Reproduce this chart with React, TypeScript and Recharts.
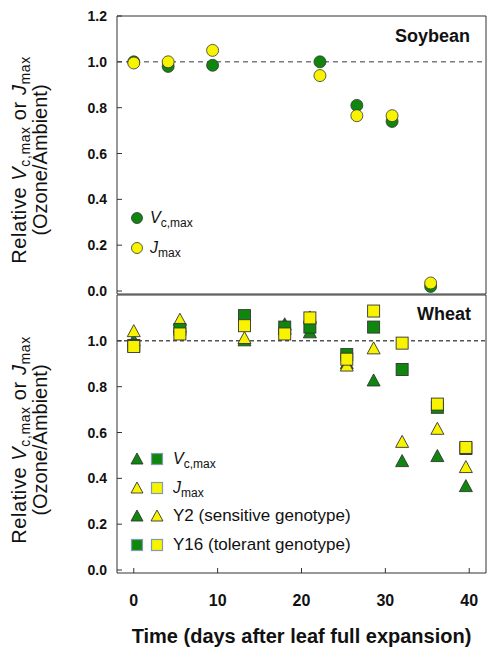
import { ScatterChart, Scatter, XAxis, YAxis, ReferenceLine, ReferenceArea, Legend, Label } from 'recharts'

const soyDays = [0, 4.1, 9.4, 22.2, 26.6, 30.8, 35.4]
const soyVcmax = [1.0, 0.98, 0.985, 1.0, 0.81, 0.74, 0.02]
const soyJmax = [0.995, 1.0, 1.05, 0.94, 0.765, 0.765, 0.035]

const wheatDays = [0, 5.5, 13.2, 18, 21, 25.4, 28.6, 32, 36.2, 39.6]
const y2Vcmax = [1.0, 1.06, 1.0, 1.07, 1.035, 0.9, 0.825, 0.473, 0.495, 0.364]
const y2Jmax = [1.04, 1.09, 1.01, 1.05, 1.1, 0.89, 0.965, 0.557, 0.614, 0.447]
const y16Vcmax = [0.98, 1.05, 1.11, 1.06, 1.06, 0.94, 1.06, 0.875, 0.71, 0.53]
const y16Jmax = [0.975, 1.03, 1.066, 1.03, 1.1, 0.92, 1.13, 0.99, 0.724, 0.535]

const dayTicks = [0, 10, 20, 30, 40]
const soyTicks = [0, 0.2, 0.4, 0.6, 0.8, 1.0, 1.2]
const wheatTicks = [0, 0.2, 0.4, 0.6, 0.8, 1.0]

const GREEN = '#0f870f'
const YELLOW = '#f8f400'
const EDGE = '#333'
const FONT = '"Liberation Sans", Arial, sans-serif'
const X_DOMAIN: [number, number] = [-2, 42]
const Y_DOMAIN: [number, number] = [-0.013, 1.2]
const TICK = 5

const pts = (xs: number[], ys: number[]) => xs.map((x, i) => ({ x, y: ys[i] }))

// marker shapes
const circle = (fill: string) => (p: any) => (
  <circle cx={p.cx} cy={p.cy} r={6} fill={fill} stroke={EDGE} strokeWidth={0.8} />
)
const square = (fill: string) => (p: any) => (
  <rect x={p.cx - 6} y={p.cy - 6} width={12} height={12} fill={fill} stroke={EDGE} strokeWidth={0.9} />
)
const triangle = (fill: string) => (p: any) => (
  <polygon
    points={`${p.cx},${p.cy - 7} ${p.cx - 6.5},${p.cy + 5} ${p.cx + 6.5},${p.cy + 5}`}
    fill={fill}
    stroke={EDGE}
    strokeWidth={0.9}
  />
)

const tickText = { fontFamily: FONT, fontWeight: 'bold' as const, fill: '#111' }

// inward ticks, tickSize=0 and tickMargin=0 so x/y sit on the axis line
function LeftTick(props: any) {
  const { x, y, payload } = props
  return (
    <g>
      <line x1={x} x2={x + TICK} y1={y} y2={y} stroke={EDGE} />
      <text x={x - 10} y={y + 5} textAnchor="end" fontSize={14} {...tickText}>
        {Number(payload.value).toFixed(1)}
      </text>
    </g>
  )
}
function RightTick(props: any) {
  const { x, y } = props
  return <line x1={x} x2={x - TICK} y1={y} y2={y} stroke={EDGE} />
}
function UpTick(props: any) {
  const { x, y } = props
  return <line x1={x} x2={x} y1={y} y2={y - TICK} stroke={EDGE} />
}
function DownTick(props: any) {
  const { x, y } = props
  return <line x1={x} x2={x} y1={y} y2={y + TICK} stroke={EDGE} />
}
function BottomTick(props: any) {
  const { x, y, payload } = props
  return (
    <g>
      <line x1={x} x2={x} y1={y} y2={y - TICK} stroke={EDGE} />
      <text x={x} y={y + 33} textAnchor="middle" fontSize={16} {...tickText}>
        {payload.value}
      </text>
    </g>
  )
}

const sub = { fontSize: 12, verticalAlign: '-4px', lineHeight: 0 }

function Mark({ kind, fill, edge = EDGE }: { kind: 'circle' | 'square' | 'triangle'; fill: string; edge?: string }) {
  return (
    <svg width={14} height={14} style={{ display: 'block', flex: 'none' }}>
      {kind === 'circle' && <circle cx={7} cy={7} r={5.5} fill={fill} stroke={edge} strokeWidth={0.8} />}
      {kind === 'square' && <rect x={1.5} y={1.5} width={11} height={11} fill={fill} stroke={edge} strokeWidth={1.2} />}
      {kind === 'triangle' && <polygon points="7,1 1,12 13,12" fill={fill} stroke={edge} strokeWidth={0.9} />}
    </svg>
  )
}

function Row({ h, children }: { h: number; children: any }) {
  return <div style={{ display: 'flex', alignItems: 'center', height: h, gap: 6, whiteSpace: 'nowrap' }}>{children}</div>
}

function SoyLegend() {
  return (
    <div style={{ fontFamily: FONT, fontSize: 16, color: '#111' }}>
      <Row h={30}>
        <Mark kind="circle" fill={GREEN} />
        <span><i>V</i><span style={sub}>c,max</span></span>
      </Row>
      <Row h={30}>
        <Mark kind="circle" fill={YELLOW} />
        <span><i>J</i><span style={sub}>max</span></span>
      </Row>
    </div>
  )
}

const LEG_SQ = '#7e9db3'

function WheatLegend() {
  return (
    <div style={{ fontFamily: FONT, fontSize: 16, color: '#111' }}>
      <Row h={29}>
        <Mark kind="triangle" fill={GREEN} />
        <Mark kind="square" fill={GREEN} edge={LEG_SQ} />
        <span style={{ marginLeft: 3 }}><i>V</i><span style={sub}>c,max</span></span>
      </Row>
      <Row h={29}>
        <Mark kind="triangle" fill={YELLOW} />
        <Mark kind="square" fill={YELLOW} edge={LEG_SQ} />
        <span style={{ marginLeft: 3 }}><i>J</i><span style={sub}>max</span></span>
      </Row>
      <Row h={28}>
        <Mark kind="triangle" fill={GREEN} />
        <Mark kind="triangle" fill={YELLOW} />
        <span style={{ marginLeft: 3, fontSize: 17 }}>Y2 (sensitive genotype)</span>
      </Row>
      <Row h={30}>
        <Mark kind="square" fill={GREEN} edge={LEG_SQ} />
        <Mark kind="square" fill={YELLOW} edge={LEG_SQ} />
        <span style={{ marginLeft: 3, fontSize: 17 }}>Y16 (tolerant genotype)</span>
      </Row>
    </div>
  )
}

function YTitle({ cy }: { cy: number }) {
  return (
    <div
      style={{
        position: 'absolute',
        left: 31 - 140,
        top: cy - 22,
        width: 280,
        height: 44,
        transform: 'rotate(-90deg)',
        textAlign: 'center',
        fontFamily: FONT,
        fontSize: 20,
        lineHeight: '21px',
        color: '#111',
      }}
    >
      <div style={{ letterSpacing: 0.6 }}>
        Relative <i>V</i><span style={{ ...sub, fontSize: 14 }}>c,max</span> or <i>J</i>
        <span style={{ ...sub, fontSize: 14 }}>max</span>
      </div>
      <div>(Ozone/Ambient)</div>
    </div>
  )
}

const panelTag = { position: 'absolute' as const, fontFamily: FONT, fontWeight: 'bold' as const, fontSize: 18, color: '#111' }

export default function App() {
  return (
    <div style={{ position: 'absolute', left: 0, top: 0, width: 488, height: 653, background: '#fff', overflow: 'hidden' }}>
      <div style={{ position: 'absolute', left: 0, top: 0 }}>
        <ScatterChart width={488} height={312} margin={{ top: 16, right: 2, bottom: 18, left: 0 }}>
          <XAxis type="number" dataKey="x" domain={X_DOMAIN} ticks={dayTicks} allowDataOverflow height={0}
            axisLine={false} tickLine={false} tickSize={0} tickMargin={0} tick={<UpTick />} />
          <YAxis type="number" dataKey="y" domain={Y_DOMAIN} ticks={soyTicks} allowDataOverflow width={117}
            axisLine={false} tickLine={false} tickSize={0} tickMargin={0} tick={<LeftTick />} interval={0} />
          <YAxis yAxisId="r" orientation="right" type="number" domain={Y_DOMAIN} ticks={soyTicks} allowDataOverflow width={0}
            axisLine={false} tickLine={false} tickSize={0} tickMargin={0} tick={<RightTick />} interval={0} />
          <ReferenceArea x1={X_DOMAIN[0]} x2={X_DOMAIN[1]} y1={Y_DOMAIN[0]} y2={Y_DOMAIN[1]} fill="none" fillOpacity={0} stroke={EDGE} strokeWidth={1} />
          <ReferenceLine y={1} stroke="#7a7a7a" strokeWidth={1.5} strokeDasharray="5 4" />
          <Scatter name="Vcmax" data={pts(soyDays, soyVcmax)} shape={circle(GREEN)} isAnimationActive={false} />
          <Scatter name="Jmax" data={pts(soyDays, soyJmax)} shape={circle(YELLOW)} isAnimationActive={false} />
          <Legend layout="vertical" align="center" verticalAlign="middle" content={() => <SoyLegend />}
            wrapperStyle={{ left: 130, top: 203, width: 'auto', height: 'auto' }} />
        </ScatterChart>
      </div>
      <div style={{ position: 'absolute', left: 0, top: 294 }}>
        <ScatterChart width={488} height={359} margin={{ top: 1, right: 2, bottom: 0, left: 0 }}>
          <XAxis type="number" dataKey="x" domain={X_DOMAIN} ticks={dayTicks} allowDataOverflow height={80}
            axisLine={false} tickLine={false} tickSize={0} tickMargin={0} tick={<BottomTick />}>
            <Label value="Time (days after leaf full expansion)" position="insideBottom" offset={10}
              style={{ fontFamily: FONT, fontWeight: 'bold', fontSize: 20, fill: '#111' }} />
          </XAxis>
          <XAxis xAxisId="t" orientation="top" type="number" domain={X_DOMAIN} ticks={dayTicks} allowDataOverflow height={0}
            axisLine={false} tickLine={false} tickSize={0} tickMargin={0} tick={<DownTick />} />
          <YAxis type="number" dataKey="y" domain={Y_DOMAIN} ticks={wheatTicks} allowDataOverflow width={117}
            axisLine={false} tickLine={false} tickSize={0} tickMargin={0} tick={<LeftTick />} interval={0} />
          <YAxis yAxisId="r" orientation="right" type="number" domain={Y_DOMAIN} ticks={wheatTicks} allowDataOverflow width={0}
            axisLine={false} tickLine={false} tickSize={0} tickMargin={0} tick={<RightTick />} interval={0} />
          <ReferenceArea x1={X_DOMAIN[0]} x2={X_DOMAIN[1]} y1={Y_DOMAIN[0]} y2={Y_DOMAIN[1]} fill="none" fillOpacity={0} stroke={EDGE} strokeWidth={1} />
          <ReferenceLine y={1} stroke="#555" strokeWidth={1.5} strokeDasharray="4 3" />
          <Scatter name="Y2 Vcmax" data={pts(wheatDays, y2Vcmax)} shape={triangle(GREEN)} isAnimationActive={false} />
          <Scatter name="Y2 Jmax" data={pts(wheatDays, y2Jmax)} shape={triangle(YELLOW)} isAnimationActive={false} />
          <Scatter name="Y16 Vcmax" data={pts(wheatDays, y16Vcmax)} shape={square(GREEN)} isAnimationActive={false} />
          <Scatter name="Y16 Jmax" data={pts(wheatDays, y16Jmax)} shape={square(YELLOW)} isAnimationActive={false} />
          <Legend layout="vertical" align="center" verticalAlign="middle" content={() => <WheatLegend />}
            wrapperStyle={{ left: 130, top: 150, width: 'auto', height: 'auto' }} />
        </ScatterChart>
      </div>
      <YTitle cy={160} />
      <YTitle cy={440} />
      <div style={{ ...panelTag, left: 395, top: 26 }}>Soybean</div>
      <div style={{ ...panelTag, left: 417, top: 304 }}>Wheat</div>
    </div>
  )
}
